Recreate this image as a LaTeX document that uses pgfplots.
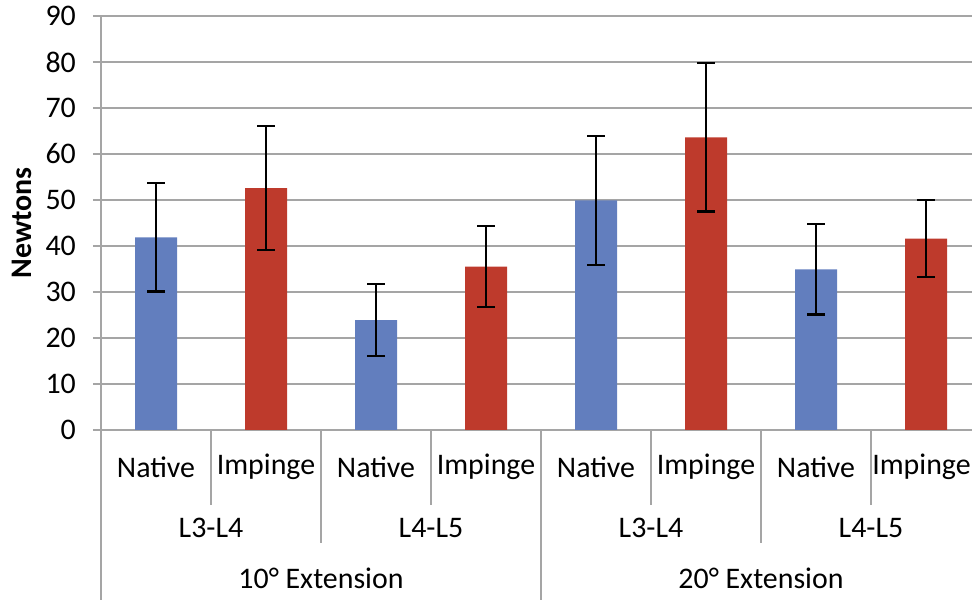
\documentclass[border=0pt]{standalone}
\usepackage{pgfplots}
\pgfplotsset{compat=1.18}
\usepackage{fontspec}
\setmainfont{Carlito}
\definecolor{bblue}{RGB}{98,126,190}
\definecolor{rred}{RGB}{190,58,44}
\definecolor{gridg}{RGB}{165,165,165}
\begin{document}
\fontsize{30}{34}\selectfont
\begin{tikzpicture}[x=1bp,y=1bp]
\useasboundingbox (0,0) rectangle (972,600);
\begin{axis}[
  at={(101bp,170bp)}, anchor=south west,
  scale only axis, width=880bp, height=414bp,
  xmin=-0.5, xmax=7.5, ymin=0, ymax=90,
  ytick={0,10,...,90},
  xtick={0,...,7},
  xticklabels={Native,Impinge,Native,Impinge,Native,Impinge,Native,{Impinge\hspace*{9bp}}},
  axis x line=bottom, axis y line=left,
  axis line style={gridg, line width=1.5bp, -},
  ymajorgrids, grid style={gridg, line width=1.5bp},
  major x tick style={draw=none},
  major y tick style={gridg, line width=1.5bp},
  tick align=outside, major tick length=8bp,
  xticklabel style={anchor=center, yshift=-29bp},
  yticklabel style={anchor=east, xshift=-7bp},
  ylabel={\bfseries Newtons},
  y label style={at={(axis description cs:0,0.5)}, anchor=center, yshift=79bp},
  clip=false,
  /pgf/number format/assume math mode=true,
  ticklabel style={font=\fontsize{30}{34}\selectfont},
  label style={font=\fontsize{30}{34}\selectfont},
]
\addplot[ybar, bar width=42bp, bar shift=0pt, fill=bblue, draw=none,
  error bars/.cd, y dir=both, y explicit,
  error bar style={black, line width=2.2bp},
  error mark options={rotate=90, mark size=9bp, line width=2.2bp, black}]
  coordinates {(0,41.9) +- (0,11.8) (2,23.9) +- (0,7.8) (4,49.9) +- (0,14.0) (6,34.9) +- (0,9.8)};
\addplot[ybar, bar width=42bp, bar shift=0pt, fill=rred, draw=none,
  error bars/.cd, y dir=both, y explicit,
  error bar style={black, line width=2.2bp},
  error mark options={rotate=90, mark size=9bp, line width=2.2bp, black}]
  coordinates {(1,52.6) +- (0,13.4) (3,35.5) +- (0,8.8) (5,63.6) +- (0,16.1) (7,41.6) +- (0,8.4)};
\pgfplotsinvokeforeach{0.5,2.5,4.5,6.5}{\draw[gridg, line width=1.5bp] (axis cs:#1,0) -- ++(0pt,-75bp);}
\pgfplotsinvokeforeach{1.5,5.5}{\draw[gridg, line width=1.5bp] (axis cs:#1,0) -- ++(0pt,-113bp);}
\pgfplotsinvokeforeach{-0.5,3.5,7.5}{\draw[gridg, line width=1.5bp] (axis cs:#1,0) -- ++(0pt,-175bp);}
\node at (axis cs:0.5,0) [yshift=-98bp] {L3-L4};
\node at (axis cs:2.5,0) [yshift=-98bp] {L4-L5};
\node at (axis cs:4.5,0) [yshift=-98bp] {L3-L4};
\node at (axis cs:6.5,0) [yshift=-98bp] {L4-L5};
\node at (axis cs:1.5,0) [yshift=-148bp] {10° Extension};
\node at (axis cs:5.5,0) [yshift=-148bp] {20° Extension};
\end{axis}
\end{tikzpicture}
\end{document}
